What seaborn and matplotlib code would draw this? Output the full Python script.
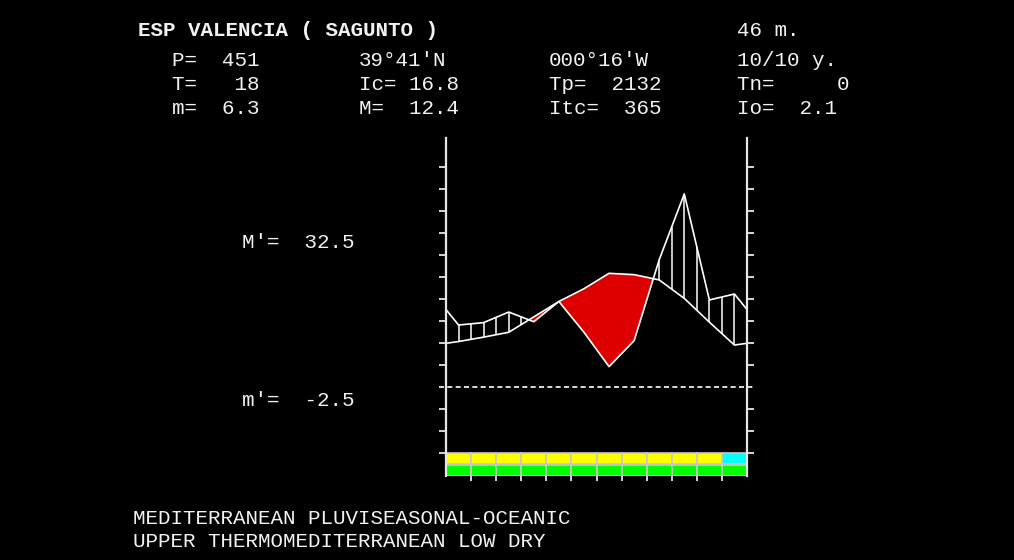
import numpy as np
import pandas as pd
import matplotlib
matplotlib.use("Agg")
import matplotlib.pyplot as plt
import seaborn as sns

# ---------------- data ----------------
months = ["Jan", "Feb", "Mar", "Apr", "May", "Jun", "Jul", "Aug", "Sep", "Oct", "Nov", "Dec"]
temp_c = [10.4, 11.4, 12.5, 16.0, 19.5, 22.4, 25.9, 25.6, 24.4, 20.2, 14.8, 9.6]
precip_mm = [28.3, 29.4, 34.2, 29.8, 39.0, 25.0, 9.4, 21.2, 58.0, 87.9, 39.7, 42.4]
band_top = ["yellow"] * 11 + ["cyan"]
band_bottom = ["green"] * 12
temp_ticks = [-15, -10, -5, 5, 10, 15, 20, 25, 30, 35, 40, 45, 50]

title = "ESP VALENCIA ( SAGUNTO )"
altitude = "46 m."
col1 = ["P=  451", "T=   18", "m=  6.3"]
col2 = ["39°41'N", "Ic= 16.8", "M=  12.4"]
col3 = ["000°16'W", "Tp=  2132", "Itc=  365"]
col4 = ["10/10 y.", "Tn=     0", "Io=  2.1"]
m_upper = "M'=  32.5"
m_lower = "m'=  -2.5"
footer = ["MEDITERRANEAN PLUVISEASONAL-OCEANIC", "UPPER THERMOMEDITERRANEAN LOW DRY"]

band_colors = {"yellow": "#ffff00", "cyan": "#00ffff", "green": "#00ff00"}

# ---------------- figure ----------------
W, H = 1014, 560
fig = plt.figure(figsize=(W / 100, H / 100), dpi=100, facecolor="black")

def fx(px):
    return px / W

def fy(py):
    return 1 - py / H

# axes placement (pixels): x 446..747, y 138..475.5
ax = fig.add_axes([fx(446), fy(475.5), (747 - 446) / W, (475.5 - 138) / H])
ax.set_facecolor("black")
ax.set_xlim(0, 12)
ax.set_ylim(-20.05, 56.66)

# curves: month centres, closed at the year edges with the Dec/Jan mean
centres = np.arange(12) + 0.5
t_arr = np.array(temp_c)
p_arr = np.array(precip_mm) / 2.0  # P scale = 2 x T scale
edge_t = (t_arr[0] + t_arr[-1]) / 2
edge_p = (p_arr[0] + p_arr[-1]) / 2
xs = np.concatenate([[0], centres, [12]])
ts = np.concatenate([[edge_t], t_arr, [edge_t]])
ps = np.concatenate([[edge_p], p_arr, [edge_p]])

# dry period (red)
ax.fill_between(xs, ts, ps, where=ts >= ps, interpolate=True,
                color="#de0000", linewidth=0, zorder=2)

# humid period (vertical hatching every half month)
hx = np.arange(0.5, 12, 0.5)
ht = np.interp(hx, xs, ts)
hp = np.interp(hx, xs, ps)
wet = hp > ht
ax.vlines(hx[wet], ht[wet], hp[wet], color="white", linewidth=1.1, zorder=3)

df = pd.DataFrame({"x": np.concatenate([xs, xs]),
                   "v": np.concatenate([ts, ps]),
                   "curve": ["T"] * len(xs) + ["P"] * len(xs)})
sns.lineplot(data=df, x="x", y="v", units="curve", estimator=None, sort=False,
             color="white", linewidth=1.2, ax=ax, zorder=4)

# 0 deg reference (dashed)
ax.axhline(0, xmin=-0.023, xmax=1.023, color="white", linewidth=1.2,
           linestyle=(0, (3, 2)), clip_on=False, zorder=4)

# month bands
ax.bar(centres, [2.43] * 12, bottom=-17.43, width=1.0,
       color=[band_colors[c] for c in band_top], edgecolor="#c8c8c8",
       linewidth=1.2, zorder=5)
ax.bar(centres, [2.4] * 12, bottom=-20.05, width=1.0,
       color=[band_colors[c] for c in band_bottom], edgecolor="#c8c8c8",
       linewidth=1.2, zorder=5)

# axes styling
for side in ["top", "bottom"]:
    ax.spines[side].set_visible(False)
for side in ["left", "right"]:
    ax.spines[side].set_color("#e6e6e6")
    ax.spines[side].set_linewidth(1.6)
    ax.spines[side].set_zorder(6)
ax.set_yticks(temp_ticks)
ax.set_xticks(range(1, 12))
ax.tick_params(axis="y", which="both", left=True, right=True, direction="out",
               length=5.2, width=1.3, color="#e6e6e6",
               labelleft=False, labelright=False)
ax.tick_params(axis="x", bottom=True, direction="out", length=3.6, width=1.3,
               color="#e6e6e6", labelbottom=False)
ax.set_xlabel("")
ax.set_ylabel("")
ax.grid(False)

# ---------------- text ----------------
font = dict(family="Liberation Mono", size=15, color="#f2f2f2", va="baseline", ha="left")
fig.text(fx(138), fy(36), title, fontweight="bold", **font)
fig.text(fx(737), fy(36), altitude, **font)
for col_x, col in zip([172, 359, 549, 737], [col1, col2, col3, col4]):
    for row_y, s in zip([66, 90, 114], col):
        fig.text(fx(col_x), fy(row_y), s, **font)
fig.text(fx(242), fy(248), m_upper, **font)
fig.text(fx(242), fy(406), m_lower, **font)
for row_y, s in zip([524, 547], footer):
    fig.text(fx(133), fy(row_y), s, **font)

fig.savefig("out.png", dpi=100, facecolor="black")
